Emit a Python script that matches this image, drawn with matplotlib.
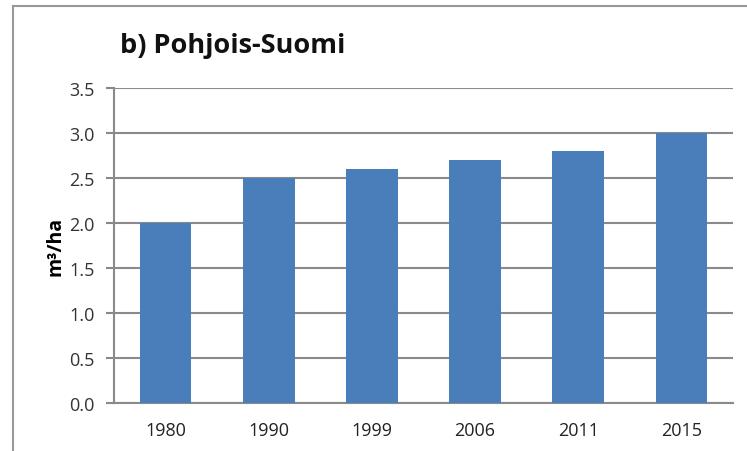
import matplotlib
matplotlib.use("Agg")
import matplotlib.pyplot as plt
from matplotlib.lines import Line2D

years = ["1980", "1990", "1999", "2006", "2011", "2015"]
values = [2.0, 2.5, 2.6, 2.7, 2.8, 3.0]
yticks = [0.0, 0.5, 1.0, 1.5, 2.0, 2.5, 3.0, 3.5]
title = "b) Pohjois-Suomi"
ylabel = "m³/ha"

W, H = 747, 452
fig = plt.figure(figsize=(W / 100, H / 100), dpi=100)
fig.patch.set_facecolor("white")

left, right, top, bottom = 114, 733, 89, 404
ax = fig.add_axes([left / W, 1 - bottom / H, (right - left) / W, (bottom - top) / H])

x = range(len(years))
ax.bar(x, values, width=0.5, color="#4a7ebb", zorder=3)
ax.set_xlim(-0.5, len(years) - 0.5)
ax.set_ylim(0, 3.5)
ax.set_yticks(yticks)
ax.set_yticklabels([f"{v:.1f}" for v in yticks], fontsize=13, color="#333333", family="Open Sans")
ax.set_xticks(list(x))
ax.set_xticklabels(years, fontsize=13, color="#222222", family="Open Sans")
ax.tick_params(axis="x", length=0, pad=13)
ax.tick_params(axis="y", length=6, width=1.5, color="#888888", pad=8)
ax.grid(axis="y", color="#8a8a8a", linewidth=1.5, zorder=0)
for s in ["top", "right"]:
    ax.spines[s].set_visible(False)
for s in ["left", "bottom"]:
    ax.spines[s].set_color("#8a8a8a")
    ax.spines[s].set_linewidth(1.5)
ax.set_axisbelow(True)

ax.set_ylabel(ylabel, fontsize=14, fontweight="bold", family="Open Sans", labelpad=3)

fig.text(120 / W, 1 - 46 / H, title, fontsize=19.5, fontweight="bold", family="Open Sans",
         va="center", ha="left", color="#111111")

fig.add_artist(Line2D([13 / W, 1], [1 - 7 / H, 1 - 7 / H], color="#999999", linewidth=1.5,
                      transform=fig.transFigure))
fig.add_artist(Line2D([13 / W, 13 / W], [1 - 7 / H, 0], color="#999999", linewidth=1.5,
                      transform=fig.transFigure))

fig.savefig("out.png", dpi=100)
